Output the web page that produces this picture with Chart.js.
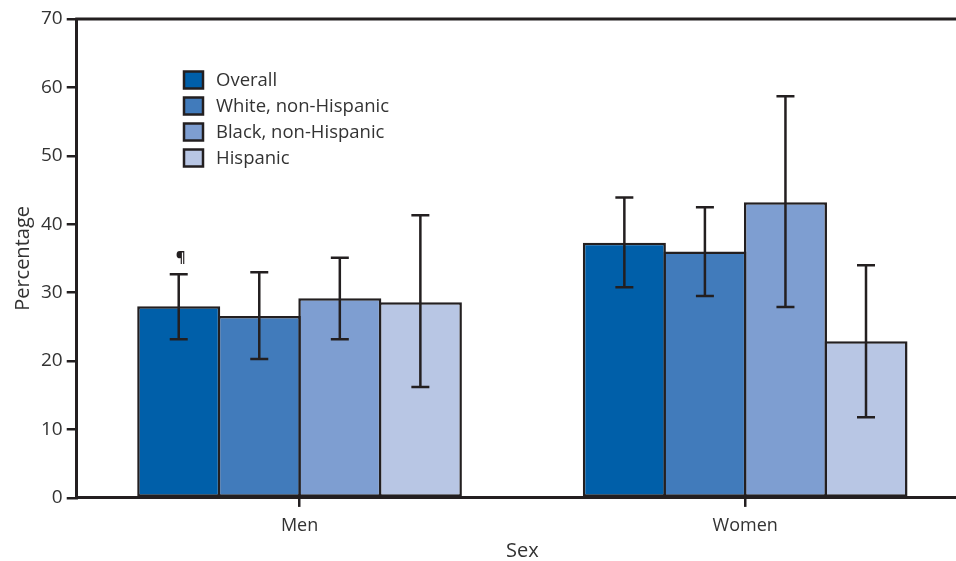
<!DOCTYPE html>
<html>
<head>
<meta charset="utf-8">
<script src="https://cdn.jsdelivr.net/npm/chart.js@4"></script>
<style>
  html, body { margin: 0; padding: 0; background: #fff; overflow: hidden; }
  #wrap { width: 980px; height: 561px; }
</style>
</head>
<body>
<div id="wrap"><canvas id="chart" width="980" height="561"></canvas></div>
<script>
const categories = ['Men', 'Women'];
const seriesNames = ['Overall', 'White, non-Hispanic', 'Black, non-Hispanic', 'Hispanic'];
const seriesColors = ['#005fa9', '#417bbb', '#7e9ed1', '#b8c6e4'];

const overall = [28.0, 37.3];
const overallLow = [23.2, 30.8];
const overallHigh = [32.7, 43.9];

const white = [26.6, 36.0];
const whiteLow = [20.3, 29.5];
const whiteHigh = [33.0, 42.5];

const black = [29.2, 43.2];
const blackLow = [23.2, 27.9];
const blackHigh = [35.1, 58.7];

const hispanic = [28.6, 22.9];
const hispanicLow = [16.2, 11.8];
const hispanicHigh = [41.3, 34.0];

const yTicks = [0, 10, 20, 30, 40, 50, 60, 70];

const ink = '#231f20';
const textColor = '#333333';
const font = 'Open Sans';

const values = [overall, white, black, hispanic];
const lows = [overallLow, whiteLow, blackLow, hispanicLow];
const highs = [overallHigh, whiteHigh, blackHigh, hispanicHigh];

const errorBars = {
    id: 'errorBars',
    afterDatasetsDraw(chart) {
        const ctx = chart.ctx;
        const y = chart.scales.y;
        ctx.save();
        ctx.strokeStyle = ink;
        ctx.lineWidth = 2.5;
        chart.data.datasets.forEach((ds, i) => {
            const meta = chart.getDatasetMeta(i);
            meta.data.forEach((bar, j) => {
                const top = y.getPixelForValue(ds.high[j]);
                const bottom = y.getPixelForValue(ds.low[j]);
                ctx.beginPath();
                ctx.moveTo(bar.x, top);
                ctx.lineTo(bar.x, bottom);
                ctx.moveTo(bar.x - 9, top);
                ctx.lineTo(bar.x + 9, top);
                ctx.moveTo(bar.x - 9, bottom);
                ctx.lineTo(bar.x + 9, bottom);
                ctx.stroke();
            });
        });
        // footnote mark over the first bar
        const first = chart.getDatasetMeta(0).data[0];
        ctx.fillStyle = ink;
        ctx.font = 'bold 15px "' + font + '"';
        ctx.textAlign = 'center';
        ctx.textBaseline = 'middle';
        ctx.fillText('¶', first.x + 2, y.getPixelForValue(overallHigh[0]) - 16);

        // frame line on top
        const area = chart.chartArea;
        ctx.lineWidth = 3;
        ctx.beginPath();
        ctx.moveTo(area.left - 1.5, area.top);
        ctx.lineTo(chart.width, area.top);
        ctx.stroke();

        // legend inside the plot
        ctx.font = '18.5px "' + font + '"';
        ctx.textAlign = 'left';
        chart.data.datasets.forEach((ds, i) => {
            const cy = 80 + i * 26;
            ctx.fillStyle = ds.backgroundColor;
            ctx.fillRect(184, cy - 8.5, 19, 17);
            ctx.lineWidth = 2.5;
            ctx.strokeRect(184, cy - 8.5, 19, 17);
            ctx.fillStyle = textColor;
            ctx.fillText(ds.label, 216, cy + 1);
        });
        ctx.restore();
    }
};

new Chart(document.getElementById('chart'), {
    type: 'bar',
    data: {
        labels: categories,
        datasets: seriesNames.map((name, i) => ({
            label: name,
            data: values[i],
            low: lows[i],
            high: highs[i],
            backgroundColor: seriesColors[i],
            borderColor: ink,
            borderWidth: 2.5,
            borderSkipped: false,
            categoryPercentage: 0.723,
            barPercentage: 1.031
        }))
    },
    options: {
        responsive: false,
        animation: false,
        layout: { padding: { top: 19, right: 12, left: 8, bottom: 0 } },
        plugins: {
            legend: { display: false },
            tooltip: { enabled: false }
        },
        scales: {
            x: {
                grid: { display: true, offset: false, drawOnChartArea: false, tickLength: 9, color: ink, lineWidth: 2.5 },
                border: { display: true, color: ink, width: 3 },
                ticks: { color: textColor, font: { family: font, size: 18 }, padding: 8.5 },
                title: { display: true, text: 'Sex', color: textColor, font: { family: font, size: 20, lineHeight: 1 }, padding: { top: -4.5, bottom: 0 } }
            },
            y: {
                min: 0,
                max: 70,
                afterBuildTicks(axis) { axis.ticks = yTicks.map(v => ({ value: v })); },
                grid: { display: true, drawOnChartArea: false, tickLength: 10, color: ink, lineWidth: 2.5 },
                border: { display: true, color: ink, width: 3 },
                ticks: { color: textColor, font: { family: font, size: 19 }, padding: 4 },
                title: { display: true, text: 'Percentage', color: textColor, font: { family: font, size: 20 }, padding: { top: 3, bottom: 2 } }
            }
        }
    },
    plugins: [errorBars]
});
</script>
</body>
</html>
